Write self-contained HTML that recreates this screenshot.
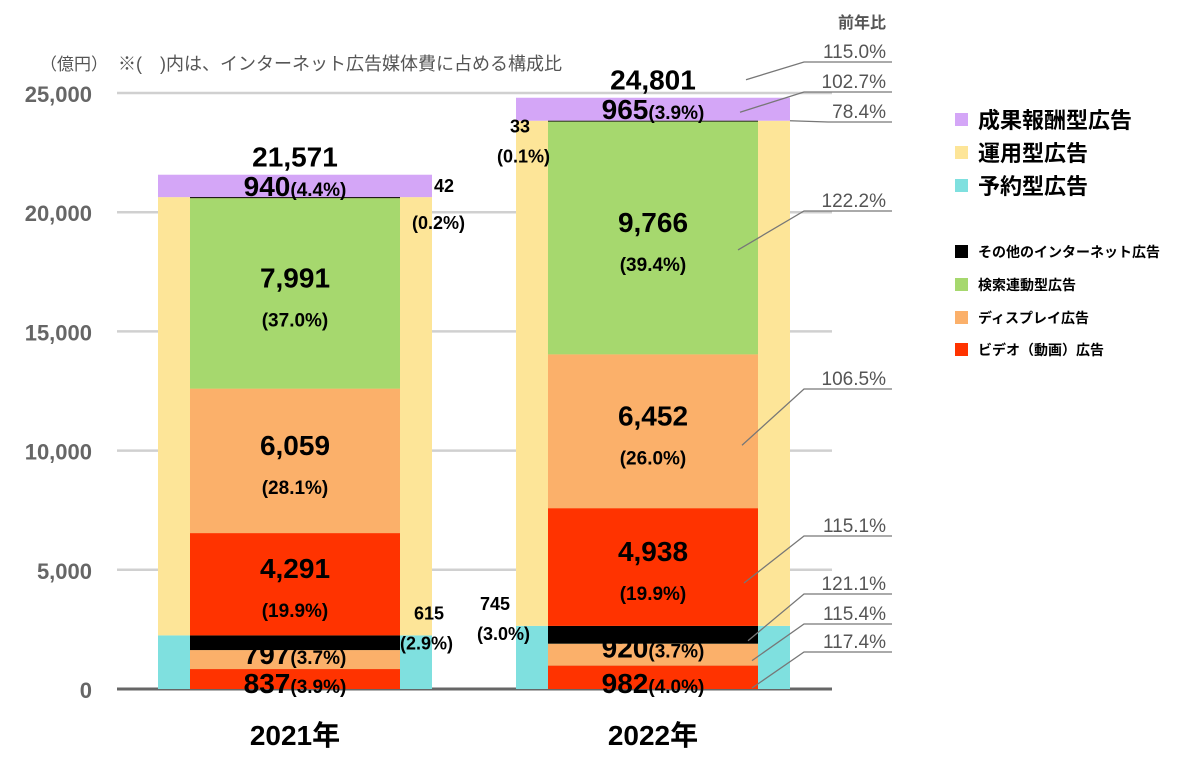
<!DOCTYPE html>
<html><head><meta charset="utf-8">
<style>
body{margin:0;background:#fff;}
svg{display:block;font-family:"Liberation Sans","Noto Sans CJK JP",sans-serif;}
</style></head>
<body>
<svg id="chart" width="1200" height="761" viewBox="0 0 1200 761"></svg>
<script>
const years = ["2021年","2022年"];
const totals = [21571, 24801];
const reservedVals = [2249, 2647];
const operationalVals = [18383, 21189];
const performanceVals = [940, 965];
const videoSmall = [837, 982];
const displaySmall = [797, 920];
const otherSmall = [615, 745];
const videoBig = [4291, 4938];
const displayBig = [6059, 6452];
const searchBig = [7991, 9766];
const otherBig = [42, 33];
const pctVideoSmall = ["3.9%","4.0%"];
const pctDisplaySmall = ["3.7%","3.7%"];
const pctOtherSmall = ["2.9%","3.0%"];
const pctVideoBig = ["19.9%","19.9%"];
const pctDisplayBig = ["28.1%","26.0%"];
const pctSearch = ["37.0%","39.4%"];
const pctOtherBig = ["0.2%","0.1%"];
const pctPerf = ["4.4%","3.9%"];
const yTicks = [0,5000,10000,15000,20000,25000];
const yoyLabels = ["115.0%","102.7%","78.4%","122.2%","106.5%","115.1%","121.1%","115.4%","117.4%"];

const NS="http://www.w3.org/2000/svg";
const svg=document.getElementById('chart');
const y0=689, ppu=596/25000;
function y(v){return y0-v*ppu;}
const outerX=[158,516], outerW=274, innerOff=32, innerW=210;
function el(tag,attrs,parent){const e=document.createElementNS(NS,tag);for(const k in attrs)e.setAttribute(k,attrs[k]);(parent||svg).appendChild(e);return e;}
function txt(x,yy,s,size,opts){const t=el('text',Object.assign({x:x,y:yy,'font-size':size,'font-weight':'bold',fill:'#000','text-anchor':'middle'},opts||{}));t.textContent=s;return t;}

yTicks.forEach(v=>{
  const l=el('line',{x1:117,x2:832,y1:y(v),y2:y(v),stroke:v===0?'#666':'#d0d0d0','stroke-width':v===0?3:2.5});
  
  
  const t=txt(92,y(v)+9,v.toLocaleString('en-US'),22,{fill:'#666','text-anchor':'end'});
  
  
});
const note=txt(40,70,"（億円）",17,{'font-weight':'normal',fill:'#555','text-anchor':'start'});


const note2=txt(118,70,"※(　)内は、インターネット広告媒体費に占める構成比",18,{'font-weight':'normal',fill:'#555','text-anchor':'start'});



function rect(x,v0,v1,w,fill,name){
  const r=el('rect',{x:x,y:y(v1),width:w,height:Math.max(0.5,y(v0)-y(v1)),fill:fill});
  
  
  return r;
}
years.forEach((yr,i)=>{
  const ox=outerX[i], ix=ox+innerOff, cx=ix+innerW/2;
  const res=reservedVals[i], op=operationalVals[i], pf=performanceVals[i];
  rect(ox,0,res,outerW,'#7fe0df','bar-reserved');
  rect(ox,res,res+op,outerW,'#fde598','bar-operational');
  rect(ox,res+op,res+op+pf,outerW,'#d4a6f7','bar-performance');
  let c=0;
  const segs=[[videoSmall[i],'#ff3300','segment-video-reserved'],[displaySmall[i],'#fbb06a','segment-display-reserved'],[otherSmall[i],'#000','segment-other-reserved'],
    [videoBig[i],'#ff3300','segment-video-operational'],[displayBig[i],'#fbb06a','segment-display-operational'],[searchBig[i],'#a6d86e','segment-search-operational'],[otherBig[i],'#000','segment-other-operational']];
  const bounds=[];
  segs.forEach(s=>{bounds.push(c);rect(ix,c,c+s[0],innerW,s[1],s[2]);c+=s[0];});
  bounds.push(c);
  function lab(v,pct,yy,n){
    const t=el('text',{x:cx,y:yy,'text-anchor':'middle','font-weight':'bold',fill:'#000'});
    
    
    const a=el('tspan',{'font-size':28},t);a.textContent=v.toLocaleString('en-US');
    const b=el('tspan',{'font-size':19},t);b.textContent='('+pct+')';
  }
  function lab2(v,pct,midV,n){
    const m=y(midV);
    const t=txt(cx,m-6,v.toLocaleString('en-US'),28);
    
    
    const p=txt(cx,m+33,'('+pct+')',19);
    
    
  }
  lab(videoSmall[i],pctVideoSmall[i],y0+4,'label-video-reserved');
  lab(displaySmall[i],pctDisplaySmall[i],y(bounds[2])+14,'label-display-reserved');
  lab2(videoBig[i],pctVideoBig[i],(bounds[3]+bounds[4])/2,'label-video');
  lab2(displayBig[i],pctDisplayBig[i],(bounds[4]+bounds[5])/2,'label-display');
  lab2(searchBig[i],pctSearch[i],(bounds[5]+bounds[6])/2,'label-search');
  lab(pf,pctPerf[i],y(res+op+pf/2)+10,'label-performance');
  const o1=txt(i===0?ox+outerW-18:ox-6,y(res)-16,otherSmall[i],18,{'text-anchor':i===0?'start':'end'});
  
  
  const o2=txt(i===0?ox+outerW-32:ox+14,y(res)+14,'('+pctOtherSmall[i]+')',18,{'text-anchor':i===0?'start':'end'});
  
  
  const q1=txt(i===0?ox+outerW+2:ox+14,i===0?y(res+op)-5:y(res+op)+12,otherBig[i],18,{'text-anchor':i===0?'start':'end'});
  
  
  const q2=txt(i===0?ox+outerW-20:ox+34,i===0?y(res+op)+32:y(res+op)+42,'('+pctOtherBig[i]+')',18,{'text-anchor':i===0?'start':'end'});
  
  
  const tt=txt(ox+outerW/2,y(totals[i])-8,totals[i].toLocaleString('en-US'),28);
  
  
  const yl=txt(ox+outerW/2,745,yr,28);
  
  
  if(i===1){
    const targets=[[y(totals[i])-18,ix+198],[y(res+op+pf/2)+3,ix+192],[y(res+op),ox+outerW],
      [y((bounds[5]+bounds[6])/2)+12,ix+190],[y((bounds[4]+bounds[5])/2)+14,ix+194],[y((bounds[3]+bounds[4])/2)+16,ix+196],
      [y((bounds[2]+bounds[3])/2)+6,ix+200],[y((bounds[1]+bounds[2])/2)+6,ix+204],[y(0)-1,ix+204]];
    const ulY=[62,92,122,211,389,536,594,624,652];
    const hd=txt(886,28,'前年比',16,{fill:'#555','text-anchor':'end'});
    
    
    yoyLabels.forEach((s,k)=>{
      const uy=ulY[k];
      const t=txt(886,uy-4,s,19,{fill:'#555','text-anchor':'end','font-weight':'normal'});
      
      
      const lx=k===2?828:804;
      const u=el('polyline',{points:`${targets[k][1]},${targets[k][0]} ${lx},${uy} 892,${uy}`,fill:'none',stroke:'#777','stroke-width':1.3});
      
      
    });
  }
});
const leg=[['成果報酬型広告','#d4a6f7',120,22],['運用型広告','#fde598',153,22],['予約型広告','#7fe0df',186,22],
  ['その他のインターネット広告','#000',252,14],['検索連動型広告','#a6d86e',285,14],['ディスプレイ広告','#fbb06a',318,14],['ビデオ（動画）広告','#ff3300',350,14]];
leg.forEach(l=>{
  const g=el('g',{});
  
  
  el('rect',{x:955,y:l[2]-7,width:13,height:13,fill:l[1]},g);
  const t=el('text',{x:978,y:l[2]+(l[3]>16?8:5),'font-size':l[3],'font-weight':'bold',fill:'#000'},g);
  t.textContent=l[0];
});
</script>
</body></html>
